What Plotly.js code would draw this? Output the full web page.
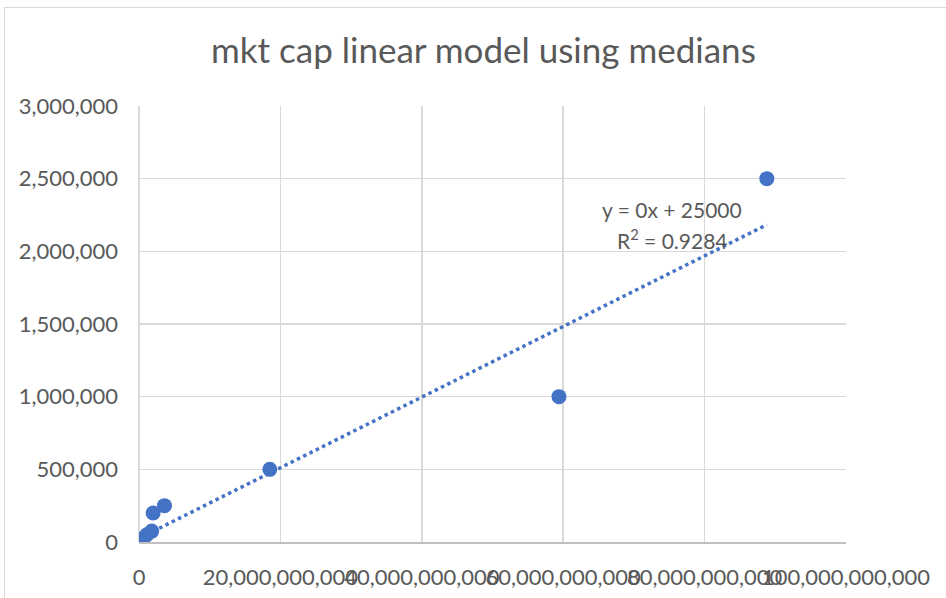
<!DOCTYPE html>
<html>
<head>
<meta charset="utf-8">
<script src="https://cdn.plot.ly/plotly-3.0.1.min.js"></script>
<style>
  html, body { margin: 0; padding: 0; background: #ffffff; overflow: hidden; }
  #chart { width: 946px; height: 598px; }
  #frame { position: absolute; left: 4px; top: 7px; width: 2000px; height: 2000px;
           border: 1.5px solid #d9d9d9; pointer-events: none; }
</style>
</head>
<body>
<div id="chart"></div>
<div id="frame"></div>
<script>
// Data (market cap vs. median value)
const mktCap  = [0.2e9, 0.6e9, 1.1e9, 1.8e9, 2.0e9, 3.6e9, 18.5e9, 59.4e9, 88.8e9];
const medians = [10000, 25000, 50000, 75000, 200000, 250000, 500000, 1000000, 2500000];

// Trendline
const trendSlope = 2.43e-5;
const trendIntercept = 25000;
const trendLabel1 = 'y = 0x + 25000';
const trendLabel2 = 'R<sup>2</sup> = 0.9284';

const chartTitle = 'mkt cap linear model using medians';

const xMin = Math.min(...mktCap), xMax = Math.max(...mktCap);
const trendX = [xMin, xMax];
const trendY = trendX.map(v => trendSlope * v + trendIntercept);

const FONT = 'Lato, "Open Sans", sans-serif';
const GREY = '#595959';

const traces = [
  {
    x: trendX, y: trendY, type: 'scatter', mode: 'lines',
    line: { color: '#4472C4', width: 3.5, dash: 'dot' },
    hoverinfo: 'skip', showlegend: false
  },
  {
    x: mktCap, y: medians, type: 'scatter', mode: 'markers',
    marker: { color: '#4472C4', size: 15, line: { width: 0 } },
    showlegend: false
  }
];

const layout = {
  width: 946, height: 598,
  margin: { l: 139, r: 100, t: 106, b: 56, pad: 0 },
  paper_bgcolor: '#ffffff', plot_bgcolor: '#ffffff',
  font: { family: FONT, color: GREY, size: 22 },
  title: {
    text: chartTitle,
    font: { family: FONT, size: 35, color: GREY },
    x: 0.511, xanchor: 'center', xref: 'container',
    y: 0.915, yref: 'container', yanchor: 'middle'
  },
  xaxis: {
    range: [0, 100e9], dtick: 20e9, tick0: 0,
    tickformat: ',d', tickangle: 0,
    showgrid: true, gridcolor: '#d9d9d9', gridwidth: 1.5,
    zeroline: true, zerolinecolor: '#d9d9d9', zerolinewidth: 1.5,
    showline: true, linecolor: '#bfbfbf', linewidth: 1.5,
    ticks: '', ticklabelstandoff: 15,
    tickfont: { family: FONT, size: 22, color: GREY },
    fixedrange: true
  },
  yaxis: {
    range: [0, 3000000], dtick: 500000, tick0: 0,
    tickformat: ',d',
    showgrid: true, gridcolor: '#d9d9d9', gridwidth: 1.5,
    zeroline: false, showline: false,
    ticks: '', ticklabelstandoff: 20,
    tickfont: { family: FONT, size: 22, color: GREY },
    fixedrange: true
  },
  annotations: [
    { x: 75.4e9, y: 2290000, xref: 'x', yref: 'y', text: trendLabel1, showarrow: false,
      xanchor: 'center', yanchor: 'middle', font: { family: FONT, size: 21, color: GREY } },
    { x: 75.4e9, y: 2086000, xref: 'x', yref: 'y', text: trendLabel2, showarrow: false,
      xanchor: 'center', yanchor: 'middle', font: { family: FONT, size: 21, color: GREY } }
  ]
};

Plotly.newPlot('chart', traces, layout, { displayModeBar: false, staticPlot: true });
</script>
</body>
</html>
